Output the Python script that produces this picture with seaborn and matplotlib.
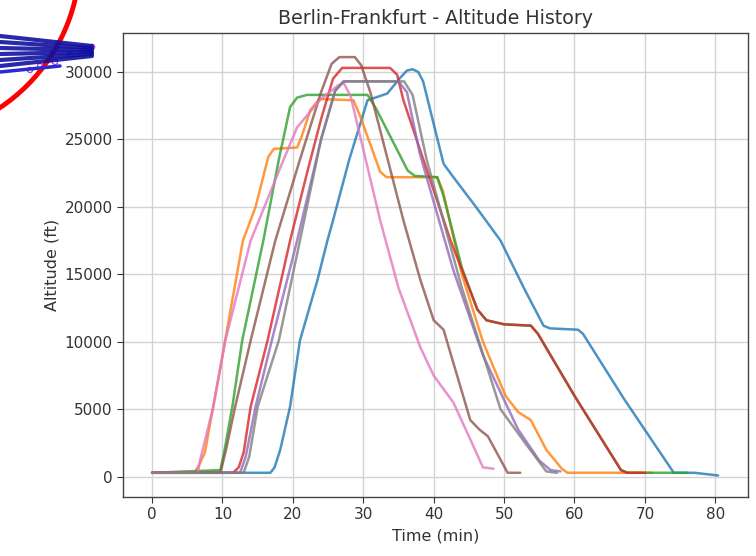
import numpy as np
import pandas as pd
import matplotlib
matplotlib.use("Agg")
import matplotlib.pyplot as plt
import seaborn as sns
from matplotlib.patches import Circle

# ---- data ----
flights = ["F1", "F2", "F3", "F4", "F5", "F6", "F7", "F8"]

t_f1 = [0, 16.8, 17.4, 18.2, 19.6, 21, 23.5, 24.9, 25.7, 28, 30.6, 33.4, 35.3, 36.2, 37, 37.8, 38.5, 41.4, 42.8, 46, 49.5, 52.8, 55.6, 56.5, 60.5, 61.2, 67, 74.1, 77, 80.4]
a_f1 = [300, 300, 700, 2000, 5200, 10100, 14600, 17500, 19000, 23500, 27900, 28400, 29600, 30100, 30200, 30000, 29300, 23200, 22200, 20000, 17500, 14000, 11200, 11000, 10900, 10600, 5800, 300, 300, 100]

t_f2 = [0, 6, 6.6, 7.5, 10, 12.9, 14.7, 16.5, 17.3, 20.6, 21.3, 22.5, 23.8, 28.6, 29.5, 32.4, 33.3, 40.5, 41.3, 44, 47, 50.2, 52, 53.8, 56, 58.2, 59, 71]
a_f2 = [300, 300, 800, 1800, 9000, 17500, 20000, 23700, 24300, 24400, 25300, 27200, 28000, 27900, 26800, 22600, 22200, 22200, 21200, 15000, 10000, 6000, 4800, 4200, 2000, 600, 300, 300]

t_f3 = [0, 9.7, 10.3, 11.4, 12.8, 15.8, 18, 19.6, 20.6, 22, 30.6, 31.8, 36.3, 37.3, 40.5, 41.4, 44, 46.2, 47.5, 50, 53.8, 54.8, 60, 66.6, 67.5, 76]
a_f3 = [300, 500, 2000, 5200, 10100, 17500, 23500, 27400, 28100, 28300, 28300, 27300, 22700, 22300, 22200, 20800, 15500, 12400, 11600, 11300, 11200, 10600, 6000, 500, 300, 300]

t_f4 = [0, 11.5, 12.3, 13, 14, 16.4, 19.6, 22, 24, 25.7, 27, 33.8, 34.8, 35.7, 42.4, 46.2, 47.5, 50, 53.8, 54.8, 60, 66.6, 67.5, 70]
a_f4 = [300, 300, 700, 1800, 5200, 10100, 17500, 22500, 26500, 29500, 30300, 30300, 29800, 27900, 17500, 12400, 11600, 11300, 11200, 10600, 6000, 500, 300, 300]

t_f5 = [0, 12.5, 13.3, 14.7, 17, 20.6, 24, 26, 27.2, 35, 36.2, 38, 42.8, 47, 52, 55, 56.6, 58]
a_f5 = [300, 300, 1500, 5200, 10100, 17500, 25000, 28600, 29300, 29300, 28500, 24000, 15300, 9000, 3500, 1200, 500, 400]

t_f6 = [0, 9.7, 10.5, 11.8, 14, 17.5, 21, 24, 25.5, 26.6, 28.8, 29.7, 31, 35.7, 38.1, 40, 41.4, 45.2, 46.5, 47.7, 50.5, 52.3]
a_f6 = [300, 300, 2000, 5200, 10100, 17500, 23500, 28500, 30600, 31100, 31100, 30500, 28500, 19000, 14600, 11600, 10900, 4200, 3500, 3000, 300, 300]

t_f7 = [0, 6.5, 6.8, 8.7, 10.4, 14, 18.6, 20.6, 24, 26.4, 27.2, 28.2, 32.4, 35, 38.1, 40, 42.8, 45, 47, 48.5]
a_f7 = [300, 300, 1200, 5200, 10100, 17500, 23400, 25900, 28000, 29000, 29200, 28200, 19000, 14000, 9600, 7500, 5500, 3000, 700, 600]

t_f8 = [0, 13, 13.8, 15, 18, 21, 24, 26, 27.2, 35.8, 37, 39, 44, 49.5, 53, 56, 57.5]
a_f8 = [300, 300, 1500, 5200, 10100, 17500, 25000, 28600, 29300, 29300, 28300, 23500, 14000, 5000, 2500, 400, 300]

times = [t_f1, t_f2, t_f3, t_f4, t_f5, t_f6, t_f7, t_f8]
alts = [a_f1, a_f2, a_f3, a_f4, a_f5, a_f6, a_f7, a_f8]

x_ticks = [0, 10, 20, 30, 40, 50, 60, 70, 80]
y_ticks = [0, 5000, 10000, 15000, 20000, 25000, 30000]

rows = []
for name, ts, als in zip(flights, times, alts):
    for t, a in zip(ts, als):
        rows.append({"flight": name, "time": t, "alt": a})
df = pd.DataFrame(rows)

# ---- style ----
sns.set_style("ticks")
plt.rcParams["font.family"] = ["DejaVu Sans"]

fig = plt.figure(figsize=(7.56, 5.56), dpi=100)
ax = fig.add_axes([0.163, 0.106, 0.826, 0.835])

palette = sns.color_palette("tab10", len(flights))
sns.lineplot(data=df, x="time", y="alt", hue="flight", hue_order=flights,
             palette=palette, sort=False, estimator=None, linewidth=1.8,
             alpha=0.8, legend=False, ax=ax)
for ln in ax.get_lines():
    ln.set_solid_joinstyle("round")

ax.set_xticks(x_ticks)
ax.set_yticks(y_ticks)
ax.set_xlim(-4.1, 84.6)
ax.set_ylim(-1500, 32900)
ax.grid(True, color="#d3d3d3", linewidth=1.0)
ax.set_axisbelow(True)
for s in ax.spines.values():
    s.set_color("#444444")
    s.set_linewidth(1.0)
ax.tick_params(labelsize=11, colors="#333333", length=4)
ax.set_xlabel("Time (min)", fontsize=11.5, color="#333333")
ax.set_ylabel("Altitude (ft)", fontsize=11.5, color="#333333")
ax.set_title("Berlin-Frankfurt - Altitude History", fontsize=13.7, color="#333333")

# ---- overlay artefact in the top-left corner of the screenshot ----
ov = fig.add_axes([0, 0, 1, 1], zorder=5)
ov.set_xlim(0, 756)
ov.set_ylim(556, 0)
ov.axis("off")
ov.patch.set_alpha(0)
ov.add_patch(Circle((-100, -42), 180, fill=False, edgecolor="red", linewidth=3.5))
for y0, y1 in [(36, 46), (42, 48), (48, 50), (54, 52), (60, 54), (66, 56)]:
    ov.plot([0, 92], [y0, y1], color="#1010a0", linewidth=3, alpha=0.9)
ov.plot([0, 60], [72, 66], color="#2a2ad0", linewidth=2.5)
ov.scatter([40, 55, 70, 85, 92, 30], [66, 62, 55, 50, 47, 70], s=14, facecolors="none", edgecolors="#c040e0", linewidths=1)

fig.savefig("out.png", dpi=100)
